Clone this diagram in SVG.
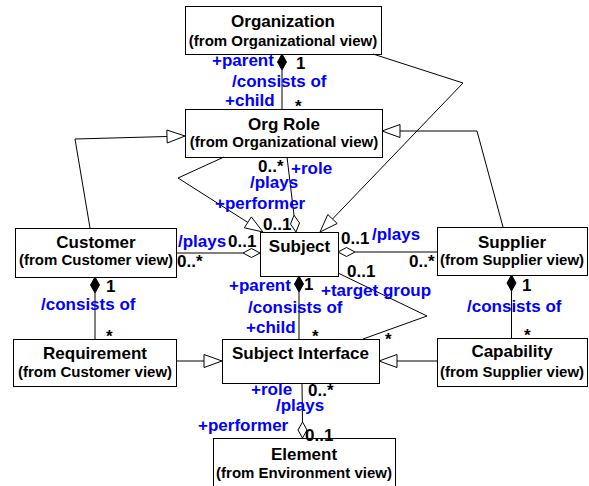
<svg xmlns="http://www.w3.org/2000/svg" width="589" height="486" viewBox="0 0 589 486">
<style>
.box{fill:#fff;stroke:#000;stroke-width:1}
.t{font-family:"Liberation Sans",Arial,sans-serif;font-weight:bold;font-size:17px;text-anchor:middle;fill:#000}
.s{font-family:"Liberation Sans",Arial,sans-serif;font-weight:bold;font-size:15px;text-anchor:middle;fill:#000}
.b{font-family:"Liberation Sans",Arial,sans-serif;font-weight:bold;font-size:17px;fill:#0000ff}
.k{font-family:"Liberation Sans",Arial,sans-serif;font-weight:bold;font-size:17px;fill:#000}
.ln{fill:none;stroke:#000;stroke-width:1}
.hol{fill:#fff;stroke:#000;stroke-width:1}
.fil{fill:#000;stroke:#000;stroke-width:1}
</style>
<rect width="589" height="486" fill="#fff"/>
<g id="organization"><rect class="box" x="185.5" y="6.5" width="196" height="48"/><text class="t" x="283" y="27">Organization</text><text class="s" x="283" y="46">(from Organizational view)</text></g>
<g id="orgrole"><rect class="box" x="185.5" y="109.5" width="197" height="48"/><text class="t" x="284" y="130">Org Role</text><text class="s" x="284" y="147">(from Organizational view)</text></g>
<g id="customer"><rect class="box" x="15.5" y="228.5" width="161" height="49"/><text class="t" x="96" y="248">Customer</text><text class="s" x="96" y="265">(from Customer view)</text></g>
<g id="subject"><rect class="box" x="260.5" y="232.5" width="78" height="44"/><text class="t" x="299.5" y="252">Subject</text></g>
<g id="supplier"><rect class="box" x="437.5" y="227.5" width="150" height="48"/><text class="t" x="512" y="248">Supplier</text><text class="s" x="512" y="265">(from Supplier view)</text></g>
<g id="requirement"><rect class="box" x="13.5" y="339.5" width="163" height="47"/><text class="t" x="95" y="359">Requirement</text><text class="s" x="95" y="377">(from Customer view)</text></g>
<g id="subjectinterface"><rect class="box" x="222.5" y="339.5" width="157" height="44"/><text class="t" x="300.5" y="359">Subject Interface</text></g>
<g id="capability"><rect class="box" x="437.5" y="338.5" width="150" height="48"/><text class="t" x="512" y="357">Capability</text><text class="s" x="512" y="377">(from Supplier view)</text></g>
<g id="element"><rect class="box" x="213.5" y="438.5" width="182" height="52"/><text class="t" x="304" y="460">Element</text><text class="s" x="304" y="478">(from Environment view)</text></g>
<g id="connectors">
<!-- Organization - Org Role composition -->
<line class="ln" x1="282" y1="70" x2="282" y2="109"/>
<polygon class="fil" points="282,54 286.5,62 282,70 277.5,62"/>
<text class="b" x="212" y="66">+parent</text>
<text class="k" x="296" y="69">1</text>
<text class="b" x="232" y="87">/consists of</text>
<text class="b" x="225" y="106">+child</text>
<text class="k" x="295" y="112">*</text>
<!-- Organization -> Subject generalization -->
<polyline class="ln" points="373,54 463,83 332.5,219"/>
<polygon class="hol" points="320,232 337.2,223.5 327.8,214.5"/>
<!-- Customer -> Org Role -->
<polyline class="ln" points="90,228 75,139 167,136.5"/>
<polygon class="hol" points="185,136 167.2,143 166.8,130"/>
<!-- Supplier -> Org Role -->
<polyline class="ln" points="503,227 477,131 400,131"/>
<polygon class="hol" points="382,131 400,124.5 400,137.5"/>
<!-- Org Role -> Subject -->
<polyline class="ln" points="224,157 178,178 247.8,222.4"/>
<polygon class="hol" points="263,232 251.3,216.9 244.3,227.8"/>
<!-- Org Role - Subject aggregation -->
<line class="ln" x1="287" y1="157" x2="294" y2="215.1"/>
<polygon class="hol" points="296,232 299.5,223 294,215.1 290.5,224.1"/>
<text class="k" x="258" y="172">0..*</text>
<text class="b" x="291" y="174">+role</text>
<text class="b" x="250" y="188">/plays</text>
<text class="b" x="215" y="209">+performer</text>
<text class="k" x="263" y="230">0..1</text>
<!-- Customer - Subject aggregation -->
<line class="ln" x1="176" y1="253" x2="243" y2="253"/>
<polygon class="hol" points="260,253 251.5,248.5 243,253 251.5,257.5"/>
<text class="b" x="178" y="247">/plays</text>
<text class="k" x="228" y="247">0..1</text>
<text class="k" x="177" y="267">0..*</text>
<!-- Supplier - Subject aggregation -->
<line class="ln" x1="355" y1="252" x2="437" y2="252"/>
<polygon class="hol" points="338,252 346.5,247.5 355,252 346.5,256.5"/>
<text class="k" x="341" y="244">0..1</text>
<text class="b" x="372" y="240">/plays</text>
<text class="k" x="409" y="267">0..*</text>
<!-- Subject - Subject Interface composition -->
<line class="ln" x1="299" y1="292" x2="299" y2="339"/>
<polygon class="fil" points="299,276 303.5,284 299,292 294.5,284"/>
<text class="b" x="229" y="291">+parent</text>
<text class="k" x="304" y="290">1</text>
<text class="b" x="248" y="313">/consists of</text>
<text class="b" x="246" y="333">+child</text>
<text class="k" x="312" y="342">*</text>
<!-- Subject - Subject Interface association -->
<polyline class="ln" points="338,273 427,316 363,339"/>
<text class="k" x="347" y="277">0..1</text>
<text class="b" x="321" y="296">+target group</text>
<text class="k" x="385" y="345">*</text>
<!-- Customer - Requirement composition -->
<line class="ln" x1="95" y1="293" x2="95" y2="339"/>
<polygon class="fil" points="95,277 99.5,285 95,293 90.5,285"/>
<text class="k" x="106" y="292">1</text>
<text class="b" x="41" y="310">/consists of</text>
<text class="k" x="106" y="342">*</text>
<!-- Supplier - Capability composition -->
<line class="ln" x1="511.5" y1="291" x2="511.5" y2="338"/>
<polygon class="fil" points="511.5,275 516,283 511.5,291 507,283"/>
<text class="k" x="522" y="291">1</text>
<text class="b" x="467" y="312">/consists of</text>
<text class="k" x="524" y="341">*</text>
<!-- Requirement -> Subject Interface -->
<line class="ln" x1="176" y1="361" x2="204" y2="361"/>
<polygon class="hol" points="222,361 204,354.5 204,367.5"/>
<!-- Capability -> Subject Interface -->
<line class="ln" x1="397" y1="361" x2="437" y2="361"/>
<polygon class="hol" points="379,361 397,354.5 397,367.5"/>
<!-- Subject Interface - Element aggregation -->
<line class="ln" x1="302" y1="383" x2="302.5" y2="422"/>
<polygon class="hol" points="302.5,438 307,430 302.5,422 298,430"/>
<text class="b" x="251" y="395">+role</text>
<text class="k" x="308" y="396">0..*</text>
<text class="b" x="276" y="411">/plays</text>
<text class="b" x="198" y="431">+performer</text>
<text class="k" x="305" y="441">0..1</text>
</g>
</svg>
